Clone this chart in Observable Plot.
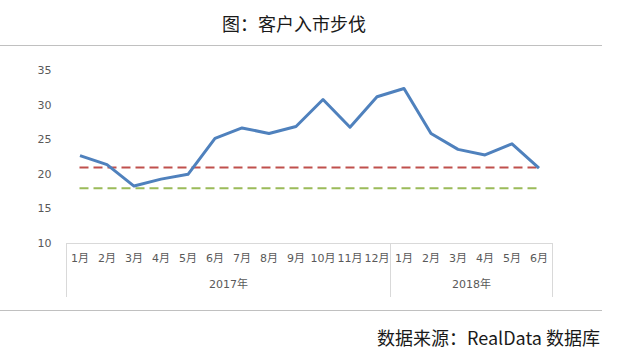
<!DOCTYPE html>
<html>
<head>
<meta charset="utf-8">
<script src="https://cdn.jsdelivr.net/npm/d3@7"></script>
<script src="https://cdn.jsdelivr.net/npm/@observablehq/plot@0.6"></script>
<style>
  html, body { margin: 0; padding: 0; background: #fff; }
  #wrap { position: relative; width: 621px; height: 363px; overflow: hidden; font-family: "Noto Sans CJK SC", sans-serif; }
  #title { position: absolute; left: 0; width: 588px; top: 12px; text-align: center; font-size: 18px; line-height: 22px; color: #1a1a1a; }
  .sep { position: absolute; left: 0; width: 602px; height: 0; border-top: 1.5px solid #c0c0c0; }
  #chart { position: absolute; left: 0; top: 46px; }
  #caption { position: absolute; right: 21px; top: 326px; font-size: 18px; line-height: 22px; color: #1a1a1a; }
</style>
</head>
<body>
<div id="wrap">
  <div id="title">图：客户入市步伐</div>
  <div class="sep" style="top:45px"></div>
  <div id="chart"></div>
  <div class="sep" style="top:310px"></div>
  <div id="caption">数据来源：RealData 数据库</div>
</div>
<script>
const months = ["1月","2月","3月","4月","5月","6月","7月","8月","9月","10月","11月","12月","1月","2月","3月","4月","5月","6月"];
const values = [22.7, 21.4, 18.3, 19.3, 20.0, 25.2, 26.7, 25.9, 26.9, 30.8, 26.8, 31.2, 32.4, 25.9, 23.6, 22.8, 24.4, 20.9];
const years = ["2017年", "2018年"];
const yearMonthCounts = [12, 6];
const redLevel = 21;
const greenLevel = 18;
const yTicks = [10, 15, 20, 25, 30, 35];

const data = values.map((v, i) => ({i, v, m: months[i]}));
// year groups derived from counts
let start = 0;
const yearGroups = years.map((y, k) => {
  const g = {label: y, start: start - 0.5, end: start + yearMonthCounts[k] - 0.5};
  start += yearMonthCounts[k];
  g.mid = (g.start + g.end) / 2;
  return g;
});
const boundaries = [yearGroups[0].start, ...yearGroups.map(g => g.end)];

const gray = "#595959";
const boxColor = "#d9d9d9";
const axisFont = "'DejaVu Sans', 'Noto Sans CJK SC', sans-serif";

const chart = Plot.plot({
  width: 621,
  height: 265,
  marginLeft: 66,
  marginRight: 69,
  marginTop: 24,
  marginBottom: 68,
  style: {fontFamily: axisFont, fontSize: "11px", color: gray, background: "transparent", overflow: "visible"},
  x: {type: "linear", domain: [boundaries[0], boundaries[boundaries.length - 1]], axis: null},
  y: {domain: [10, 35], axis: null},
  marks: [
    Plot.ruleY([10], {x1: boundaries[0], x2: boundaries[boundaries.length - 1], stroke: boxColor, strokeWidth: 1}),
    Plot.ruleX(boundaries, {x: d => d, y1: 10, y2: 10, insetBottom: -54, stroke: boxColor, strokeWidth: 1}),
    Plot.axisY(yTicks, {tickSize: 0, tickPadding: 15, fill: gray, fontSize: 11, label: null}),
    Plot.text(data, {x: "i", text: "m", frameAnchor: "bottom", dy: 18, fill: gray, fontSize: 11}),
    Plot.text(yearGroups, {x: "mid", text: "label", frameAnchor: "bottom", dy: 44, fill: gray, fontSize: 11}),
    Plot.ruleY([greenLevel], {x1: 0, x2: values.length - 1, stroke: "#9bbb59", strokeWidth: 2, strokeDasharray: "9,5"}),
    Plot.ruleY([redLevel], {x1: 0, x2: values.length - 1, stroke: "#c0504d", strokeWidth: 2, strokeDasharray: "9,5"}),
    Plot.line(data, {x: "i", y: "v", stroke: "#4f81bd", strokeWidth: 3, strokeLinejoin: "round", strokeLinecap: "butt"})
  ]
});
document.getElementById("chart").appendChild(chart);
</script>
</body>
</html>
